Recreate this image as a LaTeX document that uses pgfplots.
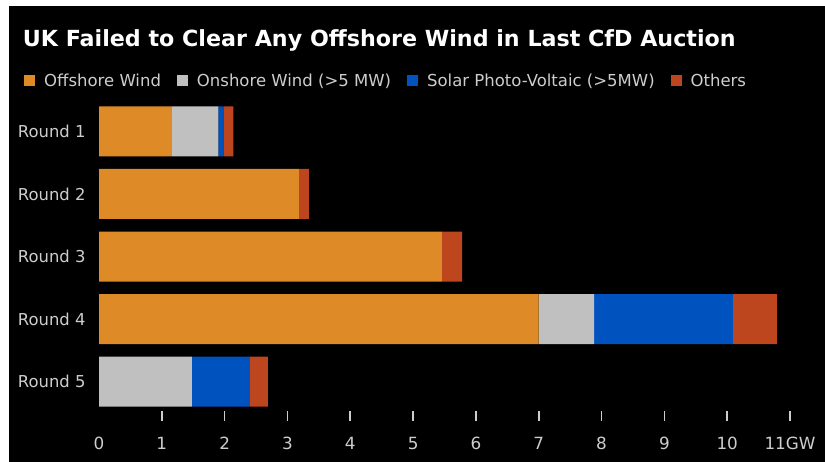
\documentclass[border=0pt]{standalone}
\usepackage{pgfplots}
\pgfplotsset{compat=1.18}
\usepackage{fontspec}
\setmainfont{DejaVu Sans}
\definecolor{offsh}{RGB}{222,138,38}
\definecolor{onsh}{RGB}{192,192,192}
\definecolor{solar}{RGB}{0,82,190}
\definecolor{others}{RGB}{190,70,30}
\definecolor{txt}{RGB}{205,205,205}
\pgfplotstableread{
y off on sol oth
1 1.16 0.74 0.08 0.16
2 3.18 0.00 0.00 0.16
3 5.46 0.00 0.00 0.32
4 7.00 0.88 2.21 0.70
5 0.00 1.48 0.92 0.29
}\data
\begin{document}
\begin{tikzpicture}
\useasboundingbox (0,0) rectangle (825bp,462bp);
\fill[white] (0,0) rectangle (825bp,462bp);
\fill[black] (9bp,0) rectangle (825bp,456bp);
\node[anchor=base west, text=white, inner sep=0pt, font=\bfseries\fontsize{22.2bp}{26bp}\selectfont] at (22.7bp,415bp) {UK Failed to Clear Any Offshore Wind in Last CfD Auction};
\begin{axis}[
  at={(99bp,49bp)}, anchor=south west,
  scale only axis, width=691bp, height=313bp,
  xmin=0, xmax=11, ymin=0.5, ymax=5.5,
  y dir=reverse,
  xbar stacked, bar width=50bp,
  axis line style={draw=none},
  ytick={1,2,3,4,5},
  yticklabels={Round 1,Round 2,Round 3,Round 4,Round 5},
  y tick label style={font=\fontsize{16.4bp}{20bp}\selectfont, text=txt},
  ytick style={draw=none},
  xtick={1,2,3,4,5,6,7,8,9,10,11},
  xticklabels={1,2,3,4,5,6,7,8,9,10,11GW},
  extra x ticks={0}, extra x tick labels={0},
  extra x tick style={major tick length=0pt, xticklabel style={yshift=-10bp}},
  xtick pos=bottom, tick align=outside,
  major tick length=10bp,
  xtick style={draw=txt, line width=1.6bp, yshift=2bp},
  x tick label style={font=\fontsize{16.8bp}{20bp}\selectfont, text=txt, yshift=-11bp},
  legend style={at={(axis description cs:-0.1085,1.0623)}, anchor=west, draw=none, fill=none,
    text=txt, font=\fontsize{16.5bp}{20bp}\selectfont, inner sep=0pt,
    /tikz/every odd column/.append style={column sep=7bp},
    /tikz/every even column/.append style={column sep=14bp}},
  legend columns=4,
  legend image code/.code={\fill[#1] (0bp,-5.8bp) rectangle (11bp,6bp);},
  legend cell align=left,
]
\addplot[fill=offsh, draw=none] table[x=off, y=y] {\data};
\addplot[fill=onsh, draw=none] table[x=on, y=y] {\data};
\addplot[fill=solar, draw=none] table[x=sol, y=y] {\data};
\addplot[fill=others, draw=none] table[x=oth, y=y] {\data};
\legend{Offshore Wind, Onshore Wind (>5 MW), Solar Photo-Voltaic (>5MW), Others}
\end{axis}
\end{tikzpicture}
\end{document}
